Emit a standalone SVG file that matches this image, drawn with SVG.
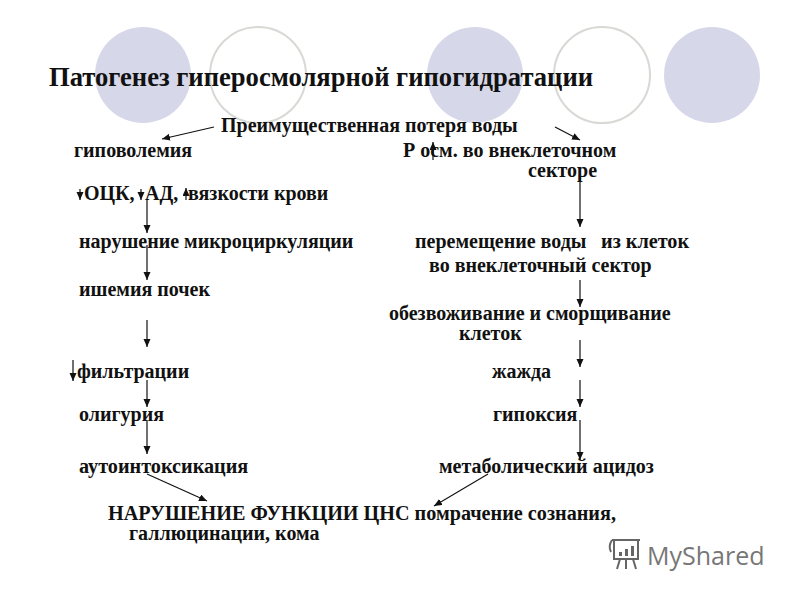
<svg xmlns="http://www.w3.org/2000/svg" width="800" height="600" viewBox="0 0 800 600">
<style>
.f{fill:#d6d7e8}
.o{fill:#fff;stroke:#d8d8d4;stroke-width:2}
text{font-family:"Liberation Serif","Times New Roman",serif;font-weight:bold;font-size:20px;fill:#111}
.t{font-size:26.6px}
.w{font-size:20.2px}
.c line{stroke:#111;stroke-width:1.2;marker-end:url(#a)}
.l{fill:none;stroke:#666;stroke-width:2}
</style>
<defs><marker id="a" markerUnits="userSpaceOnUse" markerWidth="9" markerHeight="9" refX="8" refY="3.5" orient="auto"><path d="M0 0L8 3.5L0 7Z" fill="#111"/></marker></defs>
<rect width="800" height="600" fill="#fff"/>
<g id="decor">
<circle class="f" cx="143" cy="75" r="48"/>
<circle class="o" cx="258" cy="75" r="48"/>
<circle class="f" cx="475" cy="75" r="48"/>
<circle class="o" cx="602" cy="75" r="48"/>
<circle class="f" cx="712" cy="75" r="48"/>
</g>
<g id="title"><text class="t" x="49" y="86">Патогенез гиперосмолярной гипогидратации</text></g>
<g id="n1"><text x="221" y="132">Преимущественная потеря воды</text></g>
<g id="n2"><text x="74" y="157">гиповолемия</text></g>
<g id="n3"><text x="403" y="157">Р осм. во внеклеточном</text><text x="528" y="177">секторе</text></g>
<g id="n4"><text x="84" y="200">ОЦК,</text><text x="145" y="200">АД,</text><text x="188" y="200">вязкости крови</text></g>
<g id="n5"><text x="79" y="248">нарушение микроциркуляции</text></g>
<g id="n6"><text x="415" y="248">перемещение воды</text><text class="w" x="601" y="248">из клеток</text><text x="429" y="272">во внеклеточный сектор</text></g>
<g id="n7"><text x="79" y="296">ишемия почек</text></g>
<g id="n8"><text x="389" y="320">обезвоживание и сморщивание</text><text x="459" y="340">клеток</text></g>
<g id="n9"><text x="77" y="378">фильтрации</text></g>
<g id="n10"><text x="492" y="378">жажда</text></g>
<g id="n11"><text x="79" y="421">олигурия</text></g>
<g id="n12"><text x="493" y="421">гипоксия</text></g>
<g id="n13"><text class="w" x="79" y="473">аутоинтоксикация</text></g>
<g id="n14"><text x="439" y="473">метаболический ацидоз</text></g>
<g id="n15"><text class="w" x="108" y="520">НАРУШЕНИЕ ФУНКЦИИ ЦНС помрачение сознания,</text><text x="129" y="540">галлюцинации, кома</text></g>
<g id="connectors" class="c">
<line x1="214" y1="127" x2="162" y2="139"/>
<line x1="555" y1="127" x2="580" y2="140"/>
<line x1="80" y1="189" x2="80" y2="200"/>
<line x1="141" y1="189" x2="141" y2="200"/>
<line x1="186" y1="200" x2="186" y2="188"/>
<line x1="147" y1="199" x2="147" y2="233"/>
<line x1="147" y1="245" x2="147" y2="280"/>
<line x1="433" y1="160" x2="433" y2="142"/>
<line x1="580" y1="177" x2="580" y2="227"/>
<line x1="580" y1="280" x2="580" y2="307"/>
<line x1="147" y1="320" x2="147" y2="347"/>
<line x1="73" y1="360" x2="73" y2="381"/>
<line x1="147" y1="380" x2="147" y2="407"/>
<line x1="147" y1="420" x2="147" y2="454"/>
<line x1="580" y1="340" x2="580" y2="367"/>
<line x1="580" y1="380" x2="580" y2="407"/>
<line x1="580" y1="420" x2="580" y2="460"/>
<line x1="147" y1="474" x2="207" y2="501"/>
<line x1="488" y1="474" x2="434" y2="506"/>
</g>
<g id="logo">
<path class="l" d="M612 540H640M614 540V559H638V540M612 540Q608 546 611 552M620 559L617 569M626 559V569M633 559L636 569"/>
<path d="M619 556h3v-4h-3zM625 556h3v-7h-3zM631 556h3v-10h-3z" fill="#666"/>
<text x="647" y="565" style="font-family:'Open Sans',sans-serif;font-weight:normal;font-size:25px;fill:#777">MyShared</text>
</g>
</svg>
